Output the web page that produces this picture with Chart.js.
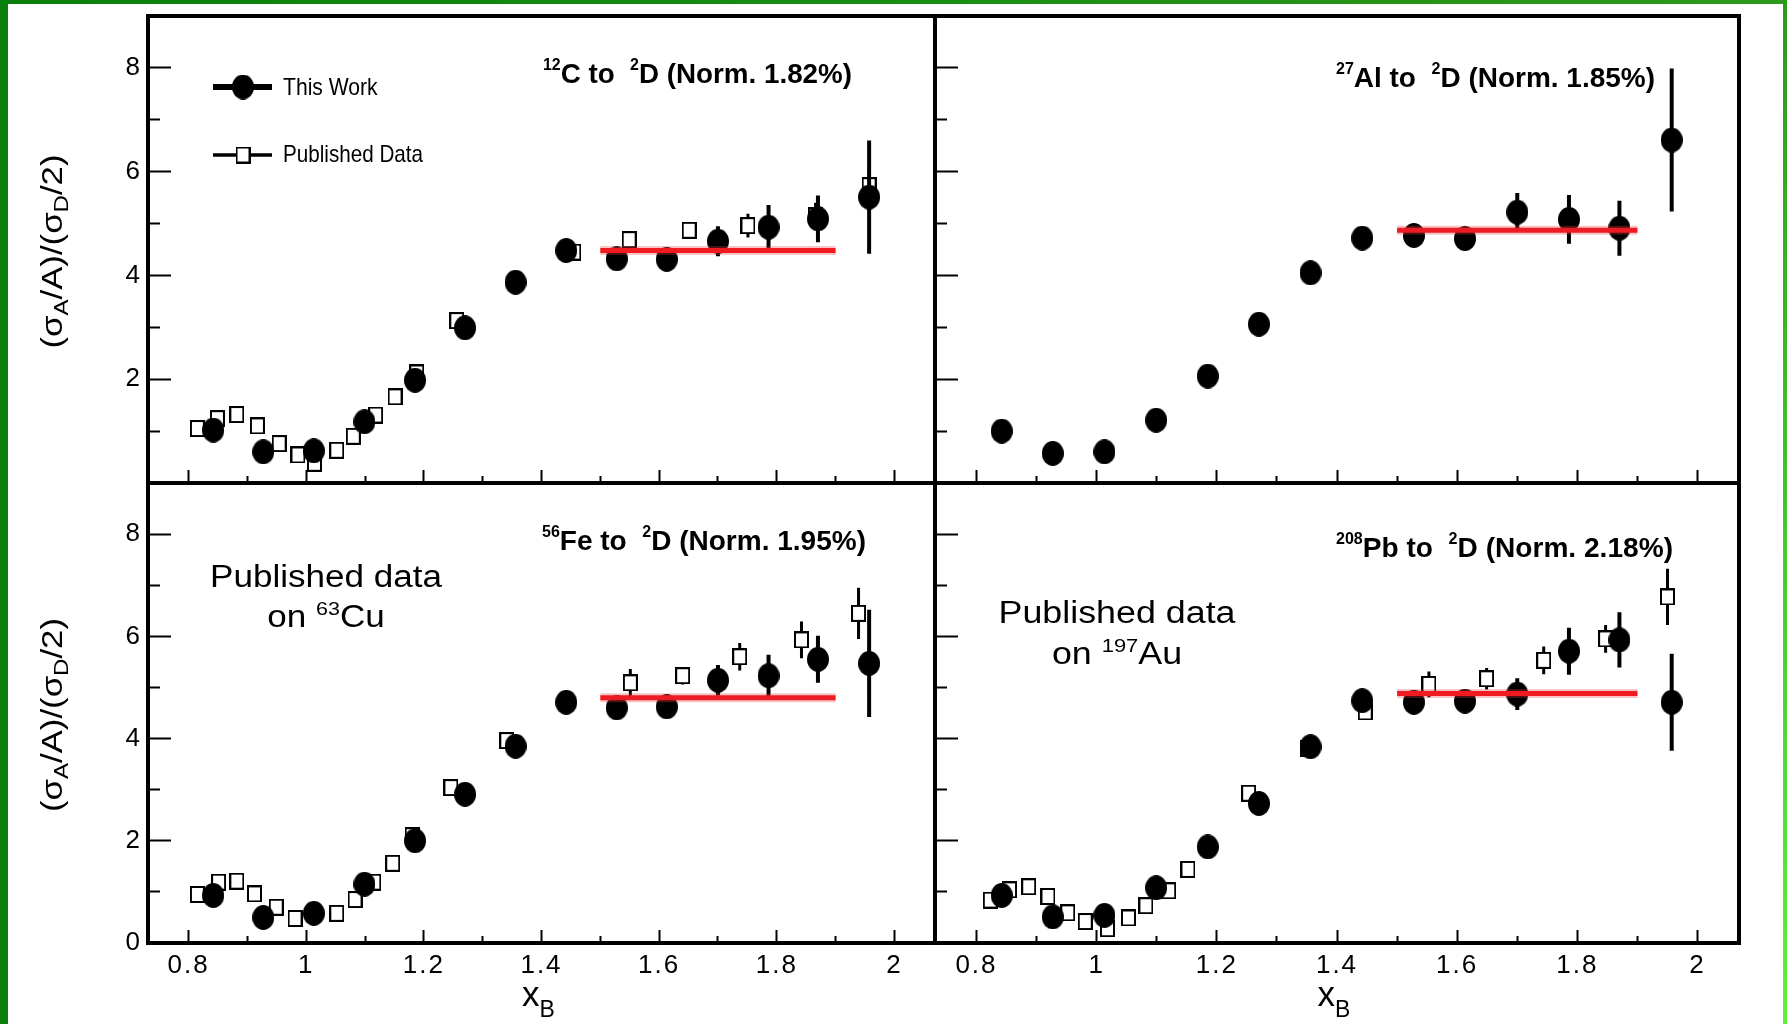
<!DOCTYPE html>
<html>
<head>
<meta charset="utf-8">
<title>A/D cross section ratios</title>
<script src="https://cdn.jsdelivr.net/npm/chart.js@4.4.1/dist/chart.umd.min.js"></script>
<style>
  html, body { margin: 0; padding: 0; background: #fff; }
  #page { position: relative; width: 1787px; height: 1024px; overflow: hidden; background: #fff; }
  #page canvas { position: absolute; left: 0; top: 0; }
  .edge { position: absolute; }
</style>
</head>
<body>
<div id="page">
  <canvas id="panelC" width="1787" height="1024"></canvas>
  <canvas id="panelAl" width="1787" height="1024"></canvas>
  <canvas id="panelFe" width="1787" height="1024"></canvas>
  <canvas id="panelPb" width="1787" height="1024"></canvas>
  <div class="edge" style="left:0;top:0;width:8px;height:1024px;background:#0b7f0b"></div>
  <div class="edge" style="left:0;top:0;width:1787px;height:4px;background:linear-gradient(90deg,#0b7f0b,#2a9a1a)"></div>
  <div class="edge" style="right:0;top:0;width:4px;height:1024px;background:linear-gradient(#2a9a1a,#5cf23a)"></div>
</div>
<script>
// x_B bins of this work (same for all targets)
const xbThisWork = [0.842, 0.927, 1.013, 1.099, 1.185, 1.270, 1.356, 1.442, 1.528, 1.613, 1.700, 1.786, 1.870, 1.957];

// 12C to 2D
const carbonRatio = [1.02, 0.60, 0.62, 1.18, 1.98, 2.99, 3.87, 4.48, 4.32, 4.31, 4.66, 4.93, 5.09, 5.51];
const carbonErr   = [0, 0, 0, 0, 0, 0, 0, 0.10, 0.15, 0.18, 0.29, 0.43, 0.45, 1.09];
const carbonPubX  = [0.815, 0.849, 0.882, 0.917, 0.954, 0.986, 1.014, 1.052, 1.080, 1.118, 1.151, 1.188, 1.256, 1.455, 1.549, 1.651, 1.751, 1.866, 1.957];
const carbonPub   = [1.05, 1.24, 1.32, 1.10, 0.76, 0.54, 0.38, 0.63, 0.90, 1.31, 1.66, 2.12, 3.13, 4.45, 4.69, 4.87, 4.96, 5.15, 5.73];
const carbonPubErr = [0, 0, 0, 0, 0, 0, 0, 0, 0, 0, 0, 0, 0, 0, 0.10, 0.10, 0.23, 0.25, 0.30];
const carbonFit = 4.48;

// 27Al to 2D
const aluminumRatio = [1.00, 0.57, 0.60, 1.21, 2.06, 3.06, 4.05, 4.72, 4.77, 4.71, 5.22, 5.08, 4.91, 6.61];
const aluminumErr   = [0, 0, 0, 0, 0, 0, 0, 0.10, 0.12, 0.15, 0.37, 0.47, 0.53, 1.38];
const aluminumFit = 4.87;

// 56Fe to 2D (published: 63Cu)
const ironRatio = [0.93, 0.50, 0.58, 1.15, 2.00, 2.91, 3.85, 4.71, 4.60, 4.62, 5.14, 5.23, 5.55, 5.47];
const ironErr   = [0, 0, 0, 0, 0, 0, 0, 0.10, 0.12, 0.15, 0.30, 0.41, 0.46, 1.05];
const copperPubX = [0.815, 0.851, 0.882, 0.912, 0.949, 0.981, 1.052, 1.083, 1.115, 1.147, 1.180, 1.246, 1.341, 1.551, 1.640, 1.737, 1.842, 1.939];
const copperPub  = [0.95, 1.19, 1.21, 0.96, 0.70, 0.48, 0.58, 0.85, 1.19, 1.56, 2.10, 3.04, 3.96, 5.09, 5.23, 5.60, 5.93, 6.45];
const copperPubErr = [0, 0, 0, 0, 0, 0, 0, 0, 0, 0, 0, 0, 0, 0.27, 0.17, 0.27, 0.36, 0.50];
const ironFit = 4.80;

// 208Pb to 2D (published: 197Au)
const leadRatio = [0.93, 0.51, 0.54, 1.08, 1.88, 2.73, 3.84, 4.74, 4.71, 4.73, 4.87, 5.71, 5.93, 4.71];
const leadErr   = [0, 0, 0, 0, 0, 0, 0, 0.10, 0.12, 0.15, 0.31, 0.46, 0.54, 0.95];
const goldPubX = [0.823, 0.855, 0.887, 0.919, 0.952, 0.981, 1.018, 1.053, 1.082, 1.120, 1.152, 1.253, 1.351, 1.447, 1.553, 1.649, 1.744, 1.847, 1.950];
const goldPub  = [0.84, 1.04, 1.10, 0.91, 0.59, 0.42, 0.28, 0.49, 0.73, 1.02, 1.44, 2.93, 3.81, 4.52, 5.06, 5.17, 5.53, 5.95, 6.77];
const goldPubErr = [0, 0, 0, 0, 0, 0, 0, 0, 0, 0, 0, 0, 0, 0, 0.25, 0.21, 0.27, 0.27, 0.55];
const leadFit = 4.88;

const fitRange = [1.5, 1.9];

// axes
const xRange = [0.731, 2.069];
const yRange = [0, 9];
const xMajorTicks = [0.8, 1.0, 1.2, 1.4, 1.6, 1.8, 2.0];
const xTickLabels = ['0.8', '1', '1.2', '1.4', '1.6', '1.8', '2'];
const xMinorTicks = [0.9, 1.1, 1.3, 1.5, 1.7, 1.9];
const yMajorTicks = [0, 2, 4, 6, 8];
const yTickLabels = ['0', '2', '4', '6', '8'];
const yMinorTicks = [1, 3, 5, 7];

const FONT = '"Liberation Sans", Arial, sans-serif';

// marker images (slightly taller than wide, as in the original)
function makeDot() {
  const c = document.createElement('canvas');
  c.width = 22; c.height = 25;
  const g = c.getContext('2d');
  g.fillStyle = '#000';
  g.beginPath();
  g.ellipse(11, 12.5, 11, 12.5, 0, 0, Math.PI * 2);
  g.fill();
  return c;
}
function makeSquare() {
  const c = document.createElement('canvas');
  c.width = 15; c.height = 17;
  const g = c.getContext('2d');
  g.fillStyle = '#fff';
  g.fillRect(1, 1, 13, 15);
  g.strokeStyle = '#000';
  g.lineWidth = 2;
  g.strokeRect(1, 1, 13, 15);
  return c;
}
const dot = makeDot();
const square = makeSquare();

// error bars as broken line segments
function barPoints(xs, ys, es) {
  const out = [];
  xs.forEach((x, i) => {
    if (!es[i]) return;
    out.push({ x: x, y: ys[i] - es[i] }, { x: x, y: ys[i] + es[i] }, { x: x, y: NaN });
  });
  return out;
}
const toPoints = (xs, ys) => xs.map((x, i) => ({ x: x, y: ys[i] }));

// text with super/subscripts; kind 1 = sup, -1 = sub
function richText(ctx, parts, x, y, o) {
  const size = o.size;
  const weight = o.bold ? 'bold' : 'normal';
  const fontFor = k => weight + ' ' + (k ? Math.round(size * (o.small || 0.6)) : size) + 'px ' + FONT;
  let total = 0;
  const widths = parts.map(([t, k]) => {
    ctx.font = fontFor(k);
    const w = ctx.measureText(t).width;
    total += w;
    return w;
  });
  const sx = o.sx || (o.width ? o.width / total : 1);
  ctx.save();
  ctx.letterSpacing = '0px';
  ctx.translate(x, y);
  if (o.rotate) ctx.rotate(o.rotate);
  ctx.scale(sx, 1);
  ctx.fillStyle = '#000';
  ctx.textAlign = 'left';
  ctx.textBaseline = 'alphabetic';
  let cx = o.align === 'center' ? -total / 2 : 0;
  parts.forEach(([t, k], i) => {
    ctx.font = fontFor(k);
    const dy = k > 0 ? -size * (o.supShift || 0.45) : k < 0 ? size * (o.subShift || 0.25) : 0;
    ctx.fillText(t, cx, dy);
    cx += widths[i];
  });
  ctx.restore();
  return sx;
}

function yTitle(ctx, a) {
  richText(ctx, [['(\u03c3', 0], ['A', -1], ['/A)/(\u03c3', 0], ['D', -1], ['/2)', 0]],
    62, (a.top + a.bottom) / 2 + 2, { size: 29, small: 0.7, subShift: 0.22, width: 194, align: 'center', rotate: -Math.PI / 2 });
}
function xTitle(ctx, a) {
  richText(ctx, [['x', 0], ['B', -1]], (a.left + a.right) / 2 - 3, 1006,
    { size: 35, small: 0.66, subShift: 0.3, align: 'center' });
}
function note(ctx, parts, x, y, width) {
  richText(ctx, parts, x, y, { size: 28, bold: true, small: 0.56, supShift: 0.48, width: width });
}
function otherTarget(ctx, nucleus, symbol, cx, y1, y2, width) {
  const sx = richText(ctx, [['Published data', 0]], cx, y1, { size: 31, width: width, align: 'center' });
  richText(ctx, [['on ', 0], [nucleus, 1], [symbol, 0]], cx, y2,
    { size: 31, sx: sx, small: 0.62, supShift: 0.4, align: 'center' });
}

function makeFrame(extra) {
  return {
    id: 'frame',
    beforeDraw(chart) { chart.ctx.letterSpacing = '2px'; },
    beforeDatasetsDraw(chart) { chart.ctx.letterSpacing = '0px'; },
    afterDraw(chart) {
      const ctx = chart.ctx;
      const a = chart.chartArea;
      ctx.save();
      ctx.lineWidth = 4;
      ctx.strokeStyle = '#000';
      ctx.strokeRect(a.left, a.top, a.right - a.left, a.bottom - a.top);
      ctx.restore();
      extra(ctx, a);
    }
  };
}

function axis(position, range, ticks, len, labels, size, weight) {
  return {
    type: 'linear',
    position: position,
    min: range[0],
    max: range[1],
    weight: weight,
    afterBuildTicks: s => { s.ticks = ticks.map(v => ({ value: v })); },
    afterFit: s => {
      if (s.isHorizontal()) s.height = size; else s.width = size;
      s.paddingTop = s.paddingBottom = s.paddingLeft = s.paddingRight = 0;
    },
    border: { display: false },
    grid: { drawOnChartArea: false, drawTicks: true, tickLength: -len, tickWidth: 2, tickColor: '#000' },
    ticks: {
      display: !!labels,
      autoSkip: false,
      minRotation: 0,
      maxRotation: 0,
      color: '#000',
      padding: position === 'left' ? len + 6 : len + 7,
      font: { family: FONT, size: 26 },
      callback: (v, i) => (labels ? labels[i] : '')
    }
  };
}

const W = 1787, H = 1024;
const colL = 148, colM = 935, colR = 1739, rowT = 16, rowM = 483, rowB = 943;

function panel(id, box, o) {
  const datasets = [
    { data: toPoints(fitRange, fitRange.map(() => o.fit)), borderColor: '#ee1c22', borderWidth: 5, pointRadius: 0, order: 0 },
    { data: toPoints(fitRange, fitRange.map(() => o.fit)), borderColor: 'rgba(240,60,60,0.3)', borderWidth: 9, pointRadius: 0, order: 0.5 },
    { data: toPoints(xbThisWork, o.ratio), showLine: false, pointStyle: dot, pointRadius: 11, order: 1 },
    { data: barPoints(xbThisWork, o.ratio, o.err), borderColor: '#000', borderWidth: 4, borderCapStyle: 'butt', pointRadius: 0, order: 2 }
  ];
  if (o.pubX) {
    datasets.push(
      { data: toPoints(o.pubX, o.pub), showLine: false, pointStyle: square, pointRadius: 8, order: 3 },
      { data: barPoints(o.pubX, o.pub, o.pubErr), borderColor: '#000', borderWidth: 3, borderCapStyle: 'butt', pointRadius: 0, order: 4 }
    );
  }
  const yLabels = o.yLabels ? yTickLabels.map((t, i) => (o.hideZero && i === 0 ? '' : t)) : null;
  // label room is given to the scale boxes, the rest is plain padding
  const yRoom = o.yLabels ? box.left : 0;
  const xRoom = o.xLabels ? H - box.bottom : 0;
  const pad = { left: box.left - yRoom, top: box.top, right: W - box.right, bottom: H - box.bottom - xRoom };
  return new Chart(document.getElementById(id), {
    type: 'line',
    data: { datasets: datasets },
    options: {
      responsive: false,
      animation: false,
      devicePixelRatio: 1,
      events: [],
      layout: { padding: pad },
      plugins: { legend: { display: false }, tooltip: { enabled: false } },
      scales: {
        x: axis('bottom', xRange, xMajorTicks, 13, o.xLabels ? xTickLabels : null, xRoom, 1),
        x2: axis('bottom', xRange, xMinorTicks, 7, null, 0, 0),
        y: axis('left', yRange, yMajorTicks, 23, yLabels, yRoom, 1),
        y2: axis('left', yRange, yMinorTicks, 12, null, 0, 0)
      }
    },
    plugins: [makeFrame(o.extra)]
  });
}

panel('panelC', { left: colL, top: rowT, right: colM, bottom: rowM }, {
  ratio: carbonRatio, err: carbonErr, pubX: carbonPubX, pub: carbonPub, pubErr: carbonPubErr, fit: carbonFit,
  yLabels: true, hideZero: true,
  extra(ctx, a) {
    yTitle(ctx, a);
    note(ctx, [['12', 1], ['C to  ', 0], ['2', 1], ['D (Norm. 1.82%)', 0]], 543, 83, 309);
    // legend
    ctx.save();
    ctx.strokeStyle = '#000';
    ctx.lineWidth = 6;
    ctx.beginPath(); ctx.moveTo(213, 87); ctx.lineTo(272, 87); ctx.stroke();
    ctx.lineWidth = 3.5;
    ctx.beginPath(); ctx.moveTo(213, 155); ctx.lineTo(272, 155); ctx.stroke();
    ctx.drawImage(dot, 243 - dot.width / 2, 87 - dot.height / 2);
    ctx.drawImage(square, 243 - square.width / 2, 155 - square.height / 2);
    ctx.restore();
    richText(ctx, [['This Work', 0]], 283, 95, { size: 24, sx: 0.88 });
    richText(ctx, [['Published Data', 0]], 283, 162, { size: 24, sx: 0.86 });
  }
});

panel('panelAl', { left: colM, top: rowT, right: colR, bottom: rowM }, {
  ratio: aluminumRatio, err: aluminumErr, fit: aluminumFit,
  extra(ctx, a) {
    note(ctx, [['27', 1], ['Al to  ', 0], ['2', 1], ['D (Norm. 1.85%)', 0]], 1336, 87, 319);
  }
});

panel('panelFe', { left: colL, top: rowM, right: colM, bottom: rowB }, {
  ratio: ironRatio, err: ironErr, pubX: copperPubX, pub: copperPub, pubErr: copperPubErr, fit: ironFit,
  xLabels: true, yLabels: true,
  extra(ctx, a) {
    yTitle(ctx, a);
    xTitle(ctx, a);
    note(ctx, [['56', 1], ['Fe to  ', 0], ['2', 1], ['D (Norm. 1.95%)', 0]], 542, 550, 324);
    otherTarget(ctx, '63', 'Cu', 326, 587, 627, 232);
  }
});

panel('panelPb', { left: colM, top: rowM, right: colR, bottom: rowB }, {
  ratio: leadRatio, err: leadErr, pubX: goldPubX, pub: goldPub, pubErr: goldPubErr, fit: leadFit,
  xLabels: true,
  extra(ctx, a) {
    xTitle(ctx, a);
    note(ctx, [['208', 1], ['Pb to  ', 0], ['2', 1], ['D (Norm. 2.18%)', 0]], 1336, 557, 337);
    otherTarget(ctx, '197', 'Au', 1117, 623, 664, 237);
  }
});
</script>
</body>
</html>
